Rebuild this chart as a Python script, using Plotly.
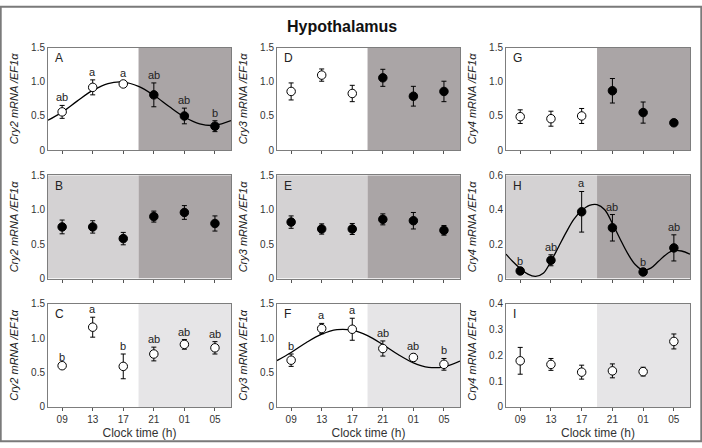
import plotly.graph_objects as go
from plotly.subplots import make_subplots

# clock times (h), 05 is plotted as 29 so the series stays continuous
hours = [9, 13, 17, 21, 25, 29]
hour_labels = ["09", "13", "17", "21", "01", "05"]

# Cry2
a_mean = [0.56, 0.92, 0.97, 0.81, 0.50, 0.35]
a_se = [0.095, 0.11, 0.04, 0.175, 0.115, 0.08]
a_letters = ["ab", "a", "a", "ab", "ab", "b"]
b_mean = [0.75, 0.75, 0.58, 0.90, 0.96, 0.80]
b_se = [0.10, 0.09, 0.09, 0.08, 0.10, 0.11]
c_mean = [0.60, 1.16, 0.59, 0.77, 0.91, 0.86]
c_se = [0.01, 0.145, 0.18, 0.10, 0.07, 0.09]
c_letters = ["b", "a", "b", "ab", "ab", "ab"]

# Cry3
d_mean = [0.86, 1.10, 0.83, 1.06, 0.79, 0.86]
d_se = [0.125, 0.09, 0.12, 0.125, 0.145, 0.15]
e_mean = [0.82, 0.72, 0.72, 0.86, 0.84, 0.70]
e_se = [0.09, 0.075, 0.08, 0.08, 0.12, 0.07]
f_mean = [0.68, 1.14, 1.13, 0.85, 0.72, 0.62]
f_se = [0.09, 0.075, 0.16, 0.11, 0.05, 0.085]
f_letters = ["b", "a", "a", "ab", "ab", "b"]

# Cry4
g_mean = [0.49, 0.46, 0.50, 0.87, 0.55, 0.40]
g_se = [0.10, 0.11, 0.11, 0.18, 0.155, 0.02]
h_mean = [0.044, 0.106, 0.388, 0.295, 0.038, 0.178]
h_se = [0.01, 0.032, 0.118, 0.077, 0.01, 0.076]
h_letters = ["b", "ab", "a", "ab", "b", "ab"]
i_mean = [0.179, 0.165, 0.135, 0.14, 0.137, 0.254]
i_se = [0.052, 0.023, 0.027, 0.027, 0.017, 0.029]

# fitted rhythm curves
a_curve_x = [7.15, 9, 11, 13, 15, 17, 19, 21, 23, 25, 27, 29, 31.1]
a_curve_y = [0.437, 0.557, 0.722, 0.875, 0.976, 0.997, 0.934, 0.803, 0.638, 0.485, 0.384, 0.363, 0.431]
f_curve_x = [7.15, 9, 11, 13, 15, 17, 19, 21, 23, 25, 27, 29, 31.1]
f_curve_y = [0.674, 0.792, 0.937, 1.058, 1.124, 1.116, 1.037, 0.908, 0.763, 0.642, 0.576, 0.584, 0.668]
h_curve_x = [7.15, 8, 9, 10, 11, 12, 13, 14, 15, 16, 17, 18, 19, 20, 21, 22, 23, 24, 25, 26, 27, 28, 29, 30, 31.1]
h_curve_y = [0.142, 0.10, 0.058, 0.025, 0.012, 0.03, 0.10, 0.185, 0.27, 0.345, 0.395, 0.425, 0.43, 0.40,
             0.32, 0.23, 0.145, 0.08, 0.048, 0.06, 0.10, 0.14, 0.163, 0.16, 0.142]

cry2_title = "<i>Cry2 mRNA /EF1α</i>"
cry3_title = "<i>Cry3 mRNA /EF1α</i>"
cry4_title = "<i>Cry4 mRNA /EF1α</i>"

DARK = "#aaa5a6"
LIGHT = "#d4d2d3"
PALE = "#e6e5e7"
FONT = "Arial, Liberation Sans, sans-serif"
X0, X1, DUSK = 7.15, 31.1, 19

OPEN = ["white"] * 3 + ["black"] * 3
panels = [
    # row, col, label, mean, se, letters, fills, curve, shading, ytitle, yticks
    (1, 1, "A", a_mean, a_se, a_letters, OPEN, (a_curve_x, a_curve_y), (None, DARK), cry2_title, [0, 0.5, 1.0, 1.5]),
    (1, 2, "D", d_mean, d_se, None, OPEN, None, (None, DARK), cry3_title, [0, 0.5, 1.0, 1.5]),
    (1, 3, "G", g_mean, g_se, None, OPEN, None, (None, DARK), cry4_title, [0, 0.5, 1.0, 1.5]),
    (2, 1, "B", b_mean, b_se, None, ["black"] * 6, None, (LIGHT, DARK), cry2_title, [0, 0.5, 1.0, 1.5]),
    (2, 2, "E", e_mean, e_se, None, ["black"] * 6, None, (LIGHT, DARK), cry3_title, [0, 0.5, 1.0, 1.5]),
    (2, 3, "H", h_mean, h_se, h_letters, ["black"] * 6, (h_curve_x, h_curve_y), (LIGHT, DARK), cry4_title, [0, 0.2, 0.4, 0.6]),
    (3, 1, "C", c_mean, c_se, c_letters, ["white"] * 6, None, (None, PALE), cry2_title, [0, 0.5, 1.0, 1.5]),
    (3, 2, "F", f_mean, f_se, f_letters, ["white"] * 6, (f_curve_x, f_curve_y), (None, PALE), cry3_title, [0, 0.5, 1.0, 1.5]),
    (3, 3, "I", i_mean, i_se, None, ["white"] * 6, None, (None, PALE), cry4_title, [0, 0.1, 0.2, 0.3, 0.4]),
]

W, H = 702, 448
col_px = [(48, 231), (277, 460), (506, 690)]
row_px = [(43, 148), (174, 280), (306, 412)]

fig = make_subplots(rows=3, cols=3)

for row, col, label, mean, se, letters, fills, curve, shade, ytitle, yticks in panels:
    n = (row - 1) * 3 + col
    xa = "x" if n == 1 else f"x{n}"
    ya = "y" if n == 1 else f"y{n}"
    ymax = yticks[-1]

    # light / dark phase shading
    if shade[0]:
        fig.add_shape(type="rect", xref=xa, yref=ya, x0=X0, x1=DUSK, y0=0, y1=ymax,
                      fillcolor=shade[0], line_width=0, layer="below")
    if shade[1]:
        fig.add_shape(type="rect", xref=xa, yref=ya, x0=DUSK, x1=X1, y0=0, y1=ymax,
                      fillcolor=shade[1], line_width=0, layer="below")

    if curve:
        fig.add_trace(go.Scatter(x=curve[0], y=curve[1], mode="lines", line_shape="spline",
                                 line=dict(color="black", width=1.3), hoverinfo="skip"),
                      row=row, col=col)

    fig.add_trace(go.Scatter(
        x=hours, y=mean, mode="markers",
        error_y=dict(type="data", array=se, color="black", thickness=1, width=2.5),
        marker=dict(size=8.5, color=fills, line=dict(color="black", width=1)),
    ), row=row, col=col)

    # significance letters sit just above the error bars
    if letters:
        for hx, m, s, txt in zip(hours, mean, se, letters):
            fig.add_annotation(xref=xa, yref=ya, x=hx, y=m + s, text=txt, showarrow=False,
                               yanchor="bottom", yshift=0,
                               font=dict(family=FONT, size=11, color="#222"))

    fig.add_annotation(xref=f"{xa} domain", yref=f"{ya} domain", x=0.025, y=0.985,
                       text=label, showarrow=False, xanchor="left", yanchor="top",
                       font=dict(family=FONT, size=12, color="#222"))

    x0p, x1p = col_px[col - 1]
    y0p, y1p = row_px[row - 1]
    fig.update_xaxes(domain=[x0p / W, x1p / W], range=[X0, X1],
                     tickvals=hours, ticktext=hour_labels, showticklabels=(row == 3),
                     ticks="outside", ticklen=3, tickcolor="#555",
                     showline=True, mirror=True, linecolor="#7d7d7d", linewidth=1,
                     showgrid=False, zeroline=False,
                     tickfont=dict(family=FONT, size=10, color="#333"),
                     title=dict(text="Clock time (h)" if row == 3 else "", standoff=4,
                                font=dict(family=FONT, size=12, color="#333")),
                     row=row, col=col)
    fig.update_yaxes(domain=[1 - y1p / H, 1 - y0p / H], range=[0, ymax],
                     tickvals=yticks, ticktext=["0"] + [f"{v:.1f}" for v in yticks[1:]],
                     ticks="", showline=True, mirror=True, linecolor="#7d7d7d", linewidth=1,
                     showgrid=False, zeroline=False,
                     tickfont=dict(family=FONT, size=10, color="#333"),
                     title=dict(text=ytitle, standoff=10,
                                font=dict(family=FONT, size=11, color="#222")),
                     row=row, col=col)

fig.add_annotation(xref="paper", yref="paper", x=342 / W, y=1 - 21 / H, yanchor="middle",
                   text="<b>Hypothalamus</b>", showarrow=False,
                   font=dict(family=FONT, size=16, color="#111"))

# outer frame around the whole figure
fig.add_shape(type="rect", xref="paper", yref="paper", x0=0.001, x1=0.999, y0=0.002, y1=0.998,
              line=dict(color="#7a7a7a", width=2))

fig.update_layout(width=W, height=H, margin=dict(l=0, r=0, t=0, b=0),
                  paper_bgcolor="white", plot_bgcolor="white", showlegend=False)

# drop the default page margin so the figure fills the window
fig.write_html("out.html", config={"displayModeBar": False},
               post_script="document.body.style.margin='0';")
